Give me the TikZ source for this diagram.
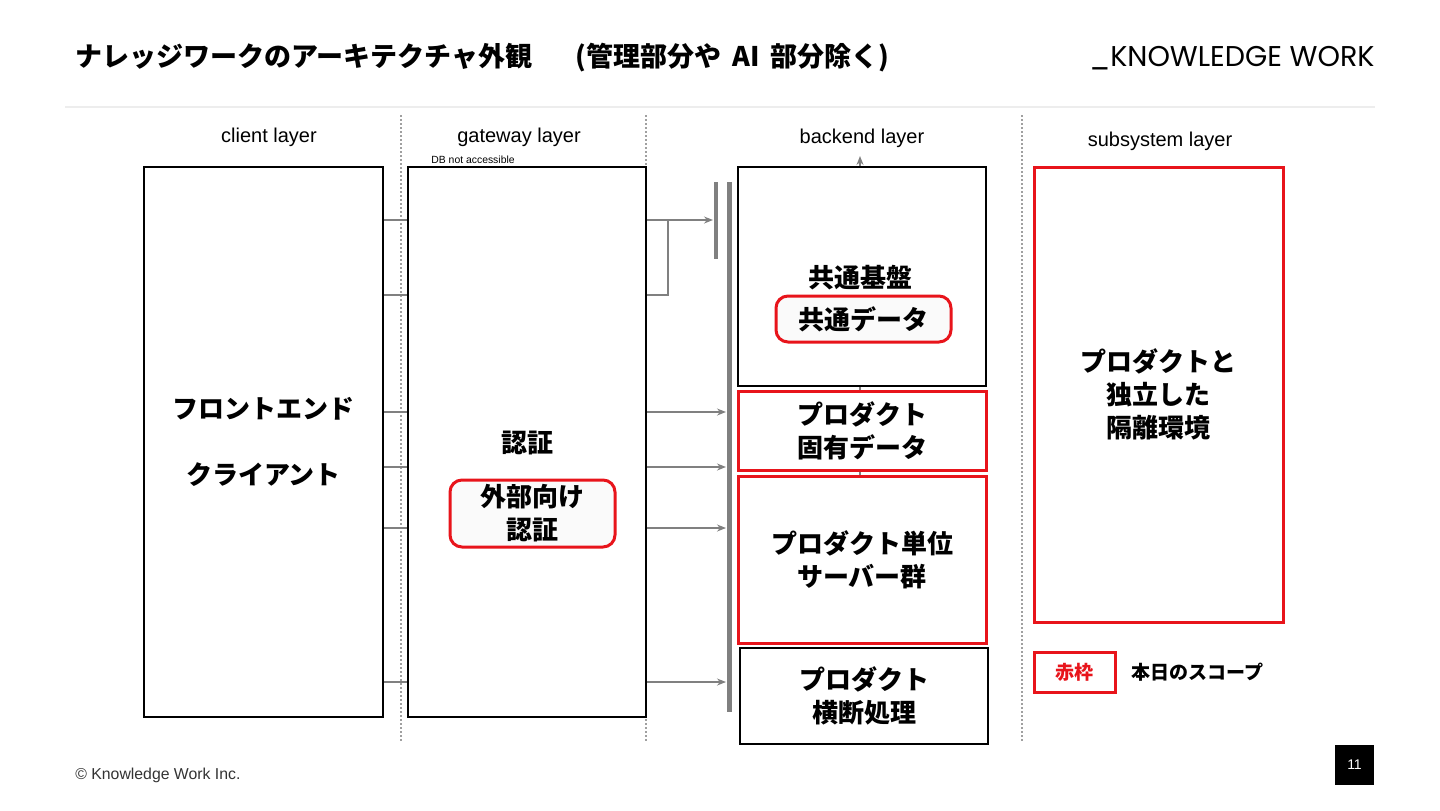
\documentclass[tikz,border=0pt]{standalone}
\usepackage{fontspec}
\setmainfont{Liberation Sans}
\newfontfamily\jpfont{Noto Sans CJK JP}
\newfontfamily\logofont{Poppins}
\usetikzlibrary{arrows.meta, positioning, backgrounds}
\definecolor{kwred}{HTML}{E8141B}
\definecolor{kwgray}{HTML}{808080}
\definecolor{kwrule}{HTML}{EDEDED}
\definecolor{kwdots}{HTML}{A0A0A0}

\tikzset{
  jptext/.style={font=\jpfont\bfseries\fontsize{13}{16.5}\selectfont, align=center},
  box/.style={jptext, draw=black, line width=0.8pt, fill=white, inner sep=0pt},
  scopebox/.style={box, draw=kwred, line width=1.5pt},
  pill/.style={scopebox, rounded corners=6pt, fill=black!2},
  link/.style={kwgray, line width=0.7pt},
  tip/.style={link, -{Stealth[length=4.5pt,width=3.5pt,inset=1.5pt]}},
  bar/.style={kwgray, line width=2.4pt},
  layer/.style={font=\fontsize{10}{12}\selectfont},
  divider/.style={kwdots, line width=0.8pt, dash pattern=on 0.8pt off 1.2pt},
}

\begin{document}
\begin{tikzpicture}[x=0.5pt,y=-0.5pt]
    \useasboundingbox (0,0) rectangle (1440,810);
    % header
    \node[anchor=west, inner sep=0pt, font=\jpfont\bfseries\fontsize{13.5}{15}\selectfont] (title) at (75,58)
      {ナレッジワークのアーキテクチャ外観\hspace{1.6em}(管理部分や\hspace{0.4em}AI\hspace{0.4em}部分除く)};
    \node[anchor=east, inner sep=0pt, font=\logofont\fontsize{14.3}{16}\selectfont] (logo) at (1375,58) {\_KNOWLEDGE WORK};
    \draw[kwrule, line width=1pt] (65,107) -- (1375,107);

    % layers
    \node[layer] (clientlayer) at (269,137) {client layer};
    \node[layer] (gatewaylayer) at (519,137) {gateway layer};
    \node[layer] (backendlayer) at (862,138) {backend layer};
    \node[layer] (subsystemlayer) at (1160,141) {subsystem layer};
    \node[anchor=west, inner sep=0pt, font=\fontsize{5.2}{6}\selectfont] (dbnote) at (431,160) {DB not accessible};
    \foreach \x in {401,646,1022}
      \draw[divider] (\x,115) -- (\x,742);

    % client / gateway
    \node[box, minimum width=119.5pt, minimum height=275pt] (client) at (263.5,442) {フロントエンド\\[16.5pt]クライアント};
    \node[box, minimum width=119pt, minimum height=275pt] (gateway) at (527,442) {};
    \node[jptext] (auth) at (527,443) {認証};
    \node[pill, minimum width=82.5pt, minimum height=33.5pt] (extauth) at (532.5,513.5) {外部向け\\認証};

    % backend
    \node[box, minimum width=124pt, minimum height=109.5pt] (common) at (862,276.5) {};
    \node[jptext] (commonlbl) at (860,278) {共通基盤};
    \node[pill, minimum width=87.5pt, minimum height=23pt] (commondata) at (863.5,319) {共通データ};
    \node[scopebox, minimum width=124pt, minimum height=39.5pt] (proddata) at (862,430.5) {プロダクト\\固有データ};
    \node[scopebox, minimum width=124pt, minimum height=83.5pt] (prodsrv) at (862,559.5) {プロダクト単位\\サーバー群};
    \node[box, minimum width=124pt, minimum height=48pt] (cross) at (864,696) {プロダクト\\横断処理};
    \coordinate (up) at (860,156);
    \begin{scope}[on background layer]
      \draw[tip] (prodsrv.north -| up) -- (up);
    \end{scope}

    % subsystem + legend
    \node[scopebox, minimum width=124.5pt, minimum height=227.5pt] (subsys) at (1158.5,394.5) {プロダクトと\\独立した\\隔離環境};
    \node[scopebox, minimum width=40.5pt, minimum height=20pt, text=kwred, font=\jpfont\bfseries\fontsize{9.5}{11}\selectfont] (legend) at (1074.5,672) {赤枠};
    \node[right=7.5pt of legend, inner sep=0pt, font=\jpfont\bfseries\fontsize{9.5}{11}\selectfont] (legendtxt) {本日のスコープ};

    % buses
    \coordinate (busS) at (713,220);
    \coordinate (busL) at (726,0);
    \draw[bar] (716,182) -- (716,259);
    \draw[bar] (729.5,182) -- (729.5,712);

    % connectors
    \foreach \y in {220,295,412,467,528,682}
      \draw[link] (client.east |- 0,\y) -- (gateway.west |- 0,\y);
    \draw[tip] (gateway.east |- busS) -- (busS);
    \draw[link] (gateway.east |- 0,295) -| (668,220);
    \foreach \y in {412,467,528,682}
      \draw[tip] (gateway.east |- 0,\y) -- (busL |- 0,\y);

    % footer
    \node[anchor=west, inner sep=0pt, text=black!80, font=\fontsize{7.9}{9}\selectfont] (copyright) at (75,775) {© Knowledge Work Inc.};
    \node[fill=black, text=white, inner sep=0pt, minimum width=19.5pt, minimum height=20pt, font=\fontsize{7}{8}\selectfont] (page) at (1354.5,765) {11};
  \end{tikzpicture}
\end{document}
